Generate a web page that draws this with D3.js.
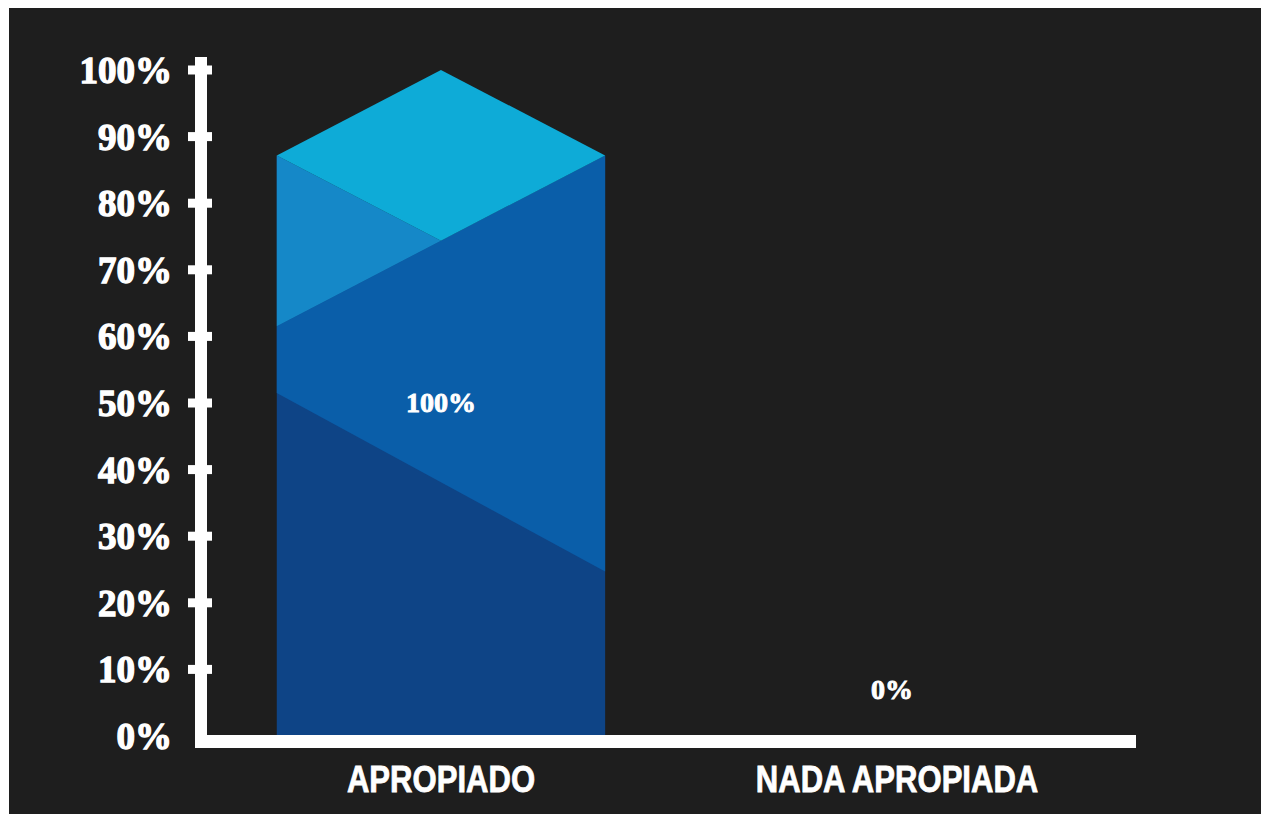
<!DOCTYPE html>
<html>
<head>
<meta charset="utf-8">
<script src="https://cdn.jsdelivr.net/npm/d3@7"></script>
<style>
  html, body { margin: 0; padding: 0; background: #ffffff; }
  svg { display: block; }
</style>
</head>
<body>
<svg id="chart" width="1261" height="814"></svg>
<script>
// ---- data ----
const categories = ["APROPIADO", "NADA APROPIADA"];
const values = [100, 0];
const dataLabels = ["100%", "0%"];
const tickValues = [0, 10, 20, 30, 40, 50, 60, 70, 80, 90, 100];
const tickLabels = ["0%", "10%", "20%", "30%", "40%", "50%", "60%", "70%", "80%", "90%", "100%"];

// ---- layout ----
const W = 1261, H = 814;
const svg = d3.select("#chart");

svg.append("rect").attr("x", 9).attr("y", 8).attr("width", W - 9).attr("height", H - 8)
  .attr("fill", "#1e1e1e");

const y = d3.scaleLinear().domain([0, 100]).range([736, 70]);
const x = d3.scaleBand().domain(categories).range([207, 1131])
  .paddingInner(0.28).paddingOuter(0.153);

const colors = { top: "#0eabd7", left: "#1588c8", mid: "#0a5ea9", dark: "#0e4486" };

const bars = svg.append("g");
const slope = 0.52;

categories.forEach((c, i) => {
  const v = values[i];
  if (v <= 0) return;
  const x0 = x(c), bw = x.bandwidth(), x1 = x0 + bw, xc = x0 + bw / 2, hw = bw / 2;
  const T = y(v), B = y(0);
  const rise = hw * slope;
  const corner = T + rise;          // side corners of top face
  const inner = T + 2 * rise;       // inner vertex
  const leftBottom = inner + rise;  // bottom of left light face
  const h = B - T;
  const darkL = T + h * 0.485, darkR = T + h * 0.753;
  const poly = pts => "M" + pts.map(p => p.join(",")).join("L") + "Z";
  bars.append("path").attr("fill", colors.dark)
    .attr("d", poly([[x0, corner], [xc, inner], [x1, corner], [x1, B], [x0, B]]));
  bars.append("path").attr("fill", colors.mid)
    .attr("d", poly([[x0, leftBottom], [x1, corner], [x1, darkR], [x0, darkL]]));
  bars.append("path").attr("fill", colors.left)
    .attr("d", poly([[x0, corner], [xc, inner], [x0, leftBottom]]));
  bars.append("path").attr("fill", colors.top)
    .attr("d", poly([[x0, corner], [xc, T], [x1, corner], [xc, inner]]));
});

// data labels
svg.append("g").selectAll("text").data(categories).join("text")
  .attr("x", (c, i) => x(c) + x.bandwidth() / 2 - (values[i] > 0 ? 0 : 5))
  .attr("y", (c, i) => values[i] > 0 ? (y(values[i]) + y(0)) / 2 + 9 : y(0) - 37)
  .attr("text-anchor", "middle")
  .attr("font-family", "'Liberation Serif', 'DejaVu Serif', serif")
  .attr("font-weight", "bold")
  .attr("font-size", 28)
  .attr("fill", "#ffffff")
  .attr("stroke", "#ffffff").attr("stroke-width", 0.9)
  .text((c, i) => dataLabels[i]);

// axes lines
const axisG = svg.append("g");
axisG.append("rect").attr("x", 195).attr("y", y(100) - 13).attr("width", 12)
  .attr("height", y(0) + 12 - (y(100) - 13)).attr("fill", "#ffffff");
axisG.append("rect").attr("x", 195).attr("y", y(0) - 1).attr("width", 1136 - 195)
  .attr("height", 13).attr("fill", "#ffffff");

// ticks marks
axisG.selectAll(".tm").data(tickValues.filter(t => t > 0)).join("rect")
  .attr("class", "tm").attr("x", 188).attr("y", t => y(t) - 4.5)
  .attr("width", 24).attr("height", 9).attr("fill", "#ffffff");

// tick labels via d3 axis
const yAxis = d3.axisLeft(y).tickValues(tickValues).tickSize(0).tickPadding(0)
  .tickFormat((d, i) => tickLabels[i]);
const yg = svg.append("g").attr("transform", "translate(172,0)").call(yAxis);
yg.select(".domain").remove();
yg.selectAll("text")
  .attr("font-family", "'Liberation Serif', 'DejaVu Serif', serif")
  .attr("font-weight", "bold")
  .attr("font-size", 37)
  .attr("fill", "#ffffff")
  .attr("stroke", "#ffffff").attr("stroke-width", 1.3)
  .attr("dy", "0.34em");

// category labels
svg.append("g").selectAll("text").data(categories).join("text")
  .attr("transform", c => `translate(${x(c) + x.bandwidth() / 2},792) scale(0.84,1)`)
  .attr("text-anchor", "middle")
  .attr("font-family", "'Liberation Sans', Arial, sans-serif")
  .attr("font-weight", "bold")
  .attr("font-size", 37)
  .attr("fill", "#ffffff")
  .attr("stroke", "#ffffff").attr("stroke-width", 0.8)
  .text(c => c);
</script>
</body>
</html>
